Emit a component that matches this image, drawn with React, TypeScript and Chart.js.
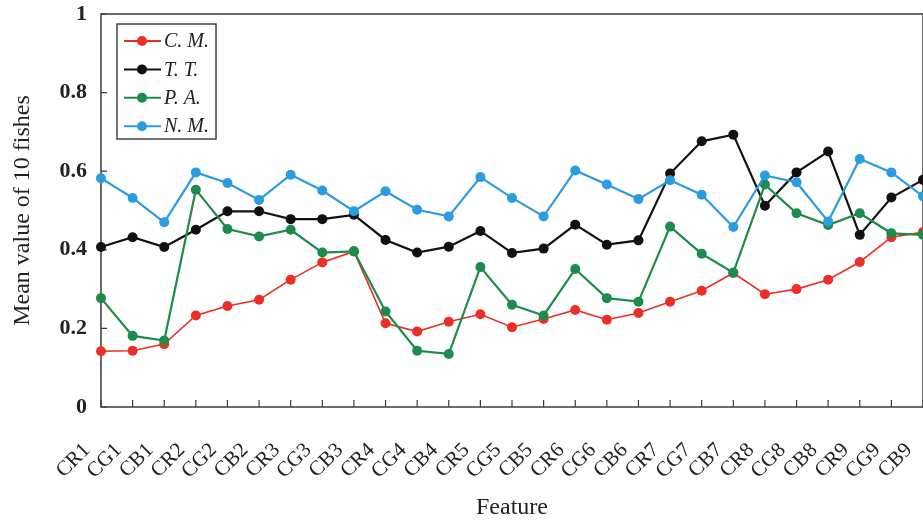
import React, { useEffect, useRef } from 'react';
import { Chart, registerables } from 'chart.js';

Chart.register(...registerables);

const categories = [
  'CR1', 'CG1', 'CB1', 'CR2', 'CG2', 'CB2', 'CR3', 'CG3', 'CB3',
  'CR4', 'CG4', 'CB4', 'CR5', 'CG5', 'CB5', 'CR6', 'CG6', 'CB6',
  'CR7', 'CG7', 'CB7', 'CR8', 'CG8', 'CB8', 'CR9', 'CG9', 'CB9',
];

const seriesCM = [0.142, 0.143, 0.160, 0.233, 0.257, 0.273, 0.324, 0.368, 0.396, 0.213, 0.192, 0.217, 0.236, 0.203, 0.224, 0.247, 0.222, 0.239, 0.268, 0.296, 0.341, 0.287, 0.300, 0.324, 0.369, 0.432, 0.445];
const seriesTT = [0.407, 0.432, 0.407, 0.451, 0.498, 0.498, 0.478, 0.478, 0.489, 0.425, 0.393, 0.408, 0.448, 0.392, 0.403, 0.464, 0.413, 0.424, 0.594, 0.676, 0.693, 0.512, 0.597, 0.650, 0.438, 0.533, 0.578];
const seriesPA = [0.277, 0.181, 0.169, 0.553, 0.453, 0.434, 0.451, 0.393, 0.396, 0.243, 0.143, 0.135, 0.356, 0.260, 0.233, 0.351, 0.277, 0.268, 0.459, 0.390, 0.342, 0.566, 0.493, 0.463, 0.493, 0.442, 0.438];
const seriesNM = [0.582, 0.532, 0.470, 0.597, 0.570, 0.527, 0.591, 0.551, 0.498, 0.549, 0.502, 0.485, 0.585, 0.532, 0.485, 0.602, 0.566, 0.529, 0.577, 0.540, 0.458, 0.589, 0.572, 0.472, 0.631, 0.597, 0.536];

const seriesLabels = ['C. M.', 'T. T.', 'P. A.', 'N. M.'];
const seriesColors = ['#ec2f26', '#111111', '#1b8c4b', '#2c9ce0'];
const yTickValues = [0, 0.2, 0.4, 0.6, 0.8, 1];

const xTitle = 'Feature';
const yTitle = 'Mean value of 10 fishes';

const SERIF = "'Liberation Serif', 'Times New Roman', 'DejaVu Serif', serif";

const framePlugin = {
  id: 'frameTicks',
  beforeDatasetsDraw(chart: any) {
    const { ctx, chartArea: a, scales } = chart;
    const xs = scales.x;
    const ys = scales.y;
    ctx.save();
    ctx.strokeStyle = '#3a3a3a';
    ctx.lineWidth = 1.5;
    ctx.strokeRect(a.left, a.top, a.right - a.left, a.bottom - a.top);
    ctx.beginPath();
    for (let i = 0; i < categories.length; i++) {
      const px = xs.getPixelForValue(i);
      ctx.moveTo(px, a.bottom);
      ctx.lineTo(px, a.bottom - 7);
    }
    yTickValues.forEach((v) => {
      const py = ys.getPixelForValue(v);
      ctx.moveTo(a.left, py);
      ctx.lineTo(a.left + 6, py);
    });
    ctx.lineWidth = 1.2;
    ctx.stroke();
    ctx.restore();
  },
  afterDatasetsDraw(chart: any) {
    const { ctx, chartArea: a } = chart;
    ctx.save();
    const bx = a.left + 16;
    const by = a.top + 10;
    const bw = 99;
    const bh = 115;
    ctx.fillStyle = '#ffffff';
    ctx.fillRect(bx, by, bw, bh);
    ctx.strokeStyle = '#444444';
    ctx.lineWidth = 1.5;
    ctx.strokeRect(bx, by, bw, bh);
    chart.data.datasets.forEach((ds: any, i: number) => {
      const cy = by + 17 + i * 28.4;
      ctx.strokeStyle = ds.borderColor;
      ctx.lineWidth = 2;
      ctx.beginPath();
      ctx.moveTo(bx + 7, cy);
      ctx.lineTo(bx + 44, cy);
      ctx.stroke();
      ctx.fillStyle = ds.borderColor;
      ctx.beginPath();
      ctx.arc(bx + 25, cy, 5, 0, Math.PI * 2);
      ctx.fill();
      ctx.fillStyle = '#222222';
      ctx.font = `italic 20px ${SERIF}`;
      ctx.textBaseline = 'middle';
      ctx.textAlign = 'left';
      ctx.fillText(ds.label, bx + 47, cy + 1);
    });
    ctx.restore();
  },
};

export default function App() {
  const ref = useRef<HTMLCanvasElement | null>(null);

  useEffect(() => {
    if (!ref.current) return;
    const allSeries = [seriesCM, seriesTT, seriesPA, seriesNM];
    const orders = [3, 2, 1, 0];
    const chart = new Chart(ref.current, {
      type: 'line',
      data: {
        labels: categories,
        datasets: allSeries.map((d, i) => ({
          label: seriesLabels[i],
          data: d,
          borderColor: seriesColors[i],
          backgroundColor: seriesColors[i],
          pointBackgroundColor: seriesColors[i],
          pointBorderColor: seriesColors[i],
          pointBorderWidth: 0,
          pointRadius: 5,
          borderWidth: i === 0 ? 1.6 : 2.2,
          tension: 0,
          fill: false,
          order: orders[i],
        })),
      },
      options: {
        responsive: false,
        animation: false,
        devicePixelRatio: 1,
        layout: { padding: { left: 0, top: 14, right: 7, bottom: 0 } },
        plugins: { legend: { display: false }, tooltip: { enabled: false } },
        scales: {
          x: {
            type: 'category',
            offset: false,
            grid: { display: false, drawTicks: false },
            border: { display: false },
            ticks: {
              autoSkip: false,
              maxRotation: 45,
              minRotation: 45,
              padding: 31,
              labelOffset: -14,
              color: '#222222',
              font: { family: SERIF, size: 21 },
            },
            title: {
              display: true,
              text: xTitle,
              color: '#222222',
              font: { family: SERIF, size: 24 },
              padding: { top: 0, bottom: 4 },
            },
            afterFit: (s: any) => {
              s.height = 119;
              s.paddingLeft = 0;
              s.paddingRight = 0;
            },
          },
          y: {
            min: 0,
            max: 1,
            grid: { display: false, drawTicks: false },
            border: { display: false },
            ticks: {
              stepSize: 0.2,
              padding: 14,
              color: '#222222',
              font: { family: SERIF, size: 22, weight: 'bold' },
              callback: (v: any) => String(Number(Number(v).toFixed(1))),
            },
            title: {
              display: true,
              text: yTitle,
              color: '#222222',
              font: { family: SERIF, size: 24 },
              padding: { top: 8, bottom: 0 },
            },
            afterFit: (s: any) => {
              s.width = 101;
              s.paddingTop = 0;
              s.paddingBottom = 0;
            },
          },
        },
      },
      plugins: [framePlugin],
    } as any);
    return () => chart.destroy();
  }, []);

  return (
    <div
      style={{
        position: 'fixed',
        left: 0,
        top: 0,
        width: 923,
        height: 526,
        overflow: 'hidden',
        background: '#ffffff',
      }}
    >
      <canvas ref={ref} width={930} height={526} style={{ display: 'block', width: 930, height: 526 }} />
    </div>
  );
}
